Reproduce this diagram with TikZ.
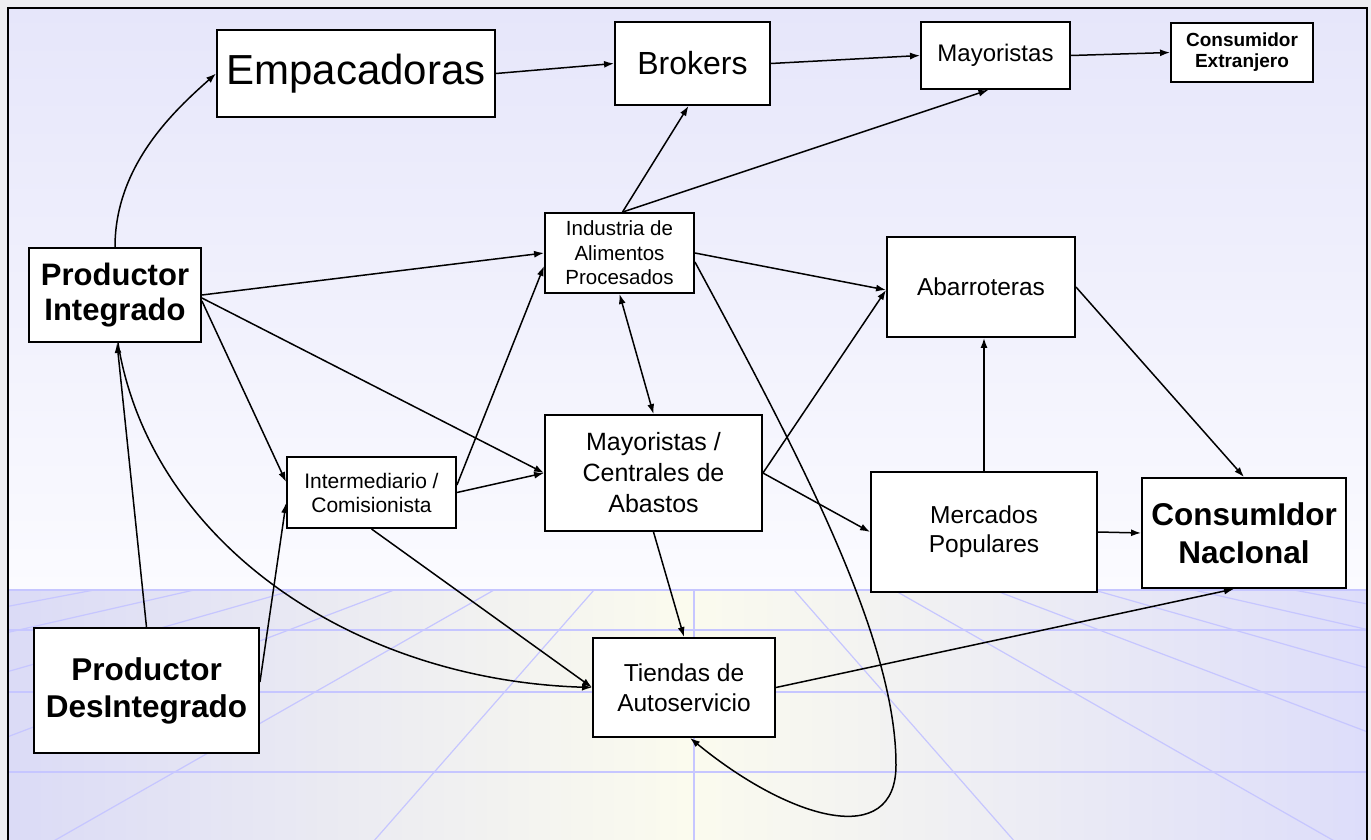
\documentclass[tikz,border=0pt]{standalone}
\usepackage{fontspec}
\setmainfont{Liberation Sans}
\usetikzlibrary{arrows.meta,calc}

\definecolor{outerbg}{RGB}{238,238,242}
\definecolor{skytop}{RGB}{230,230,250}
\definecolor{skybottom}{RGB}{251,251,255}
\definecolor{floorside}{RGB}{219,219,246}
\definecolor{floormid}{RGB}{251,251,238}
\definecolor{floorright}{RGB}{221,221,250}
\definecolor{gridblue}{RGB}{198,198,255}

\newcommand\fs[2]{\fontsize{#1}{#2}\selectfont}

\begin{document}
\begin{tikzpicture}[x=1pt,y=-1pt,
  box/.style={draw=black, line width=1.9pt, fill=white, inner sep=0pt, align=center},
  arr/.style={-{Latex[length=10pt,width=7pt]}, line width=1.5pt},
  arrboth/.style={{Latex[length=10pt,width=7pt]}-{Latex[length=10pt,width=7pt]}, line width=1.5pt},
  gridline/.style={draw=gridblue, line width=1.2pt}]

\useasboundingbox (0,0) rectangle (1371,840);

% backdrop: sky gradient above, perspective floor below
\fill[outerbg] (0,0) rectangle (1371,840);
\fill[top color=skytop, bottom color=skybottom] (9,9) rectangle (1366,590);
\fill[left color=floorside, right color=floorright, middle color=floormid] (9,590) rectangle (1366,840);

\begin{scope}
  \clip (9,589) rectangle (1366,840);
  \foreach \yy in {590,630,692,772}
    \draw[gridline] (9,\yy) -- (1366,\yy);
  \foreach \k in {-8,...,8}
    \draw[gridline] (694,476) -- ({694+400*\k},932);
\end{scope}

% frame
\draw[line width=2pt] (8,840) -- (8,8) -- (1367,8) -- (1367,840);

% nodes
\node[box, minimum width=278, minimum height=87, font={\fs{42}{50}}] (emp) at (356,73.5) {Empacadoras};
\node[box, minimum width=155, minimum height=83, font={\fs{32}{38}}] (bro) at (692.5,63.5) {Brokers};
\node[box, minimum width=149, minimum height=67, font={\fs{24}{29}}] (may) at (995.5,55.5) {Mayoristas};
\node[box, minimum width=142, minimum height=59, font={\fs{19}{21}\bfseries}] (cex) at (1242,52.5) {Consumidor\\Extranjero};
\node[box, minimum width=172, minimum height=94, font={\fs{31}{35}\bfseries}] (pin) at (115,295) {Productor\\Integrado};
\node[box, minimum width=149, minimum height=80, font={\fs{20.5}{24.5}}] (ind) at (619.5,253) {Industria de\\Alimentos\\Procesados};
\node[box, minimum width=188, minimum height=100, font={\fs{24.5}{29}}] (aba) at (981,287) {Abarroteras};
\node[box, minimum width=169, minimum height=71, font={\fs{21}{24}}] (inte) at (371.5,492.5) {Intermediario /\\Comisionista};
\node[box, minimum width=217, minimum height=116, font={\fs{25}{31}}] (cen) at (653.5,473) {Mayoristas /\\Centrales de\\Abastos};
\node[box, minimum width=226, minimum height=120, font={\fs{24.5}{29}}] (mer) at (984,532) {Mercados\\Populares};
\node[box, minimum width=204, minimum height=110, font={\fs{31.5}{38}\bfseries}] (cna) at (1244,533) {ConsumIdor\\NacIonal};
\node[box, minimum width=182, minimum height=99, font={\fs{24.5}{30}}] (tie) at (684,687.5) {Tiendas de\\Autoservicio};
\node[box, minimum width=225, minimum height=125, font={\fs{31.5}{37}\bfseries}] (pdi) at (146.5,690.5) {Productor\\DesIntegrado};

% connectors
\draw[arr] (pin.north) .. controls (115,165) and (175,110) .. (emp.west);
\draw[arr] (emp.east) -- (bro.west);
\draw[arr] (bro.east) -- (may.west);
\draw[arr] (may.east) -- (cex.west);
\draw[arr] ([xshift=3pt]ind.north) -- ([xshift=-4pt]bro.south);
\draw[arr] ([xshift=3pt]ind.north) -- ([xshift=-7pt]may.south);
\draw[arr] (pin.east) -- (ind.west);
\draw[arr] ([yshift=-3pt]pin.east) -- (cen.west);
\draw[arr] ([yshift=-6pt]pin.east) -- (inte.west |- 0,482);
\draw[arr] (pdi.north) -- ([xshift=2pt]pin.south);
\draw[arr] (pdi.east |- 0,682) -- (inte.west |- 0,503);
\draw[arr] (inte.east |- 0,485) -- (ind.west |- 0,266);
\draw[arr] (inte.east) -- (cen.west);
\draw[arrboth] (ind.south) -- (cen.north);
\draw[arr] (ind.east) -- ([yshift=-3pt]aba.west);
\draw[arr] (cen.east) -- ([yshift=-3pt]aba.west);
\draw[arr] (cen.east) -- (mer.west);
\draw[arr] (mer.north) -- (mer.north |- aba.south);
\draw[arr] (aba.east) -- (cna.north);
\draw[arr] (mer.east) -- (cna.west);
\draw[arr] (tie.east) -- ([xshift=-10pt]cna.south);
\draw[arr] (cen.south) -- (tie.north);
\draw[arr] (inte.south) -- (tie.west);
\draw[arr] ([xshift=3pt]pin.south) .. controls (150,540) and (350,680) .. (tie.west);
\coordinate (loopturn) at (896,765);
\draw[arr] (ind.east |- 0,262) .. controls (803,462) and (896,640) .. (loopturn)
  .. controls (896,850) and (790,820) .. ([xshift=6pt]tie.south);

\end{tikzpicture}
\end{document}
